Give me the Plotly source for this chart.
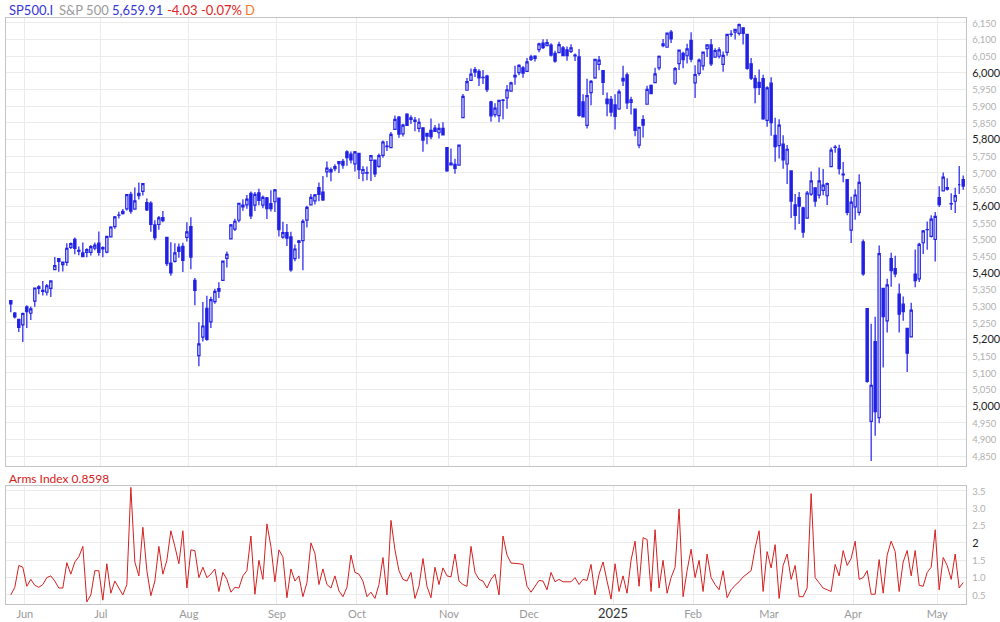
import plotly.graph_objects as go
import pandas as pd

# ---------------- data ----------------
holidays = ["2024-06-19", "2024-07-04", "2024-09-02", "2024-11-28", "2024-12-25",
            "2025-01-01", "2025-01-09", "2025-01-20", "2025-02-17", "2025-04-18"]
dates = [d for d in pd.bdate_range("2024-05-28", "2025-05-09")
         if d.strftime("%Y-%m-%d") not in holidays]

opens = [5315.91, 5278.73, 5259.77, 5243.21, 5297.15, 5278.24, 5314.48, 5357.80, 5343.81, 5341.22,
         5353.00, 5409.13, 5441.93, 5424.08, 5431.11, 5476.15, 5499.99, 5466.77, 5459.58, 5460.73,
         5460.71, 5473.59, 5488.48, 5471.08, 5461.84, 5507.44, 5537.91, 5572.75, 5584.24, 5591.26,
         5635.21, 5590.76, 5638.16, 5644.09, 5610.07, 5608.56, 5543.37, 5544.54, 5565.30, 5505.84,
         5428.70, 5433.67, 5476.55, 5478.73, 5505.59, 5537.84, 5376.63, 5151.14, 5206.42, 5293.13,
         5252.57, 5312.94, 5351.88, 5376.98, 5442.86, 5501.13, 5530.50, 5557.23, 5602.88, 5603.09,
         5637.77, 5602.89, 5639.66, 5602.89, 5624.51, 5607.30, 5612.74, 5623.89, 5506.68, 5520.08,
         5507.33, 5442.07, 5490.51, 5496.42, 5557.48, 5603.34, 5615.21, 5655.51, 5641.68, 5702.63,
         5709.48, 5711.90, 5727.15, 5733.65, 5762.22, 5755.36, 5726.52, 5757.73, 5698.19, 5698.56,
         5737.04, 5737.80, 5719.14, 5751.80, 5778.36, 5775.09, 5829.81, 5866.74, 5816.58, 5875.62,
         5859.43, 5857.82, 5832.70, 5834.50, 5817.80, 5826.75, 5833.93, 5819.68, 5832.65, 5775.34,
         5723.22, 5725.15, 5722.43, 5864.89, 5947.21, 5976.76, 6008.86, 6003.60, 5985.75, 5989.68,
         5912.79, 5874.17, 5870.96, 5917.55, 5924.37, 5944.36, 5992.28, 6000.03, 6014.11, 6003.98,
         6040.11, 6042.97, 6069.39, 6089.03, 6081.38, 6083.04, 6057.59, 6060.15, 6074.29, 6068.17,
         6063.79, 6052.55, 6047.65, 5912.71, 5842.00, 5940.25, 5984.63, 6024.97, 6006.17, 5920.67,
         5919.74, 5903.26, 5891.07, 5982.81, 5993.26, 5910.66, 5890.66, 5782.83, 5859.05, 5905.21,
         5961.72, 5969.99, 6014.12, 6081.39, 6076.32, 6121.43, 5969.04, 6026.97, 6057.70, 6050.75,
         6096.79, 5969.65, 5998.14, 6020.45, 6072.22, 6083.13, 6046.40, 6049.32, 6025.08, 6060.59,
         6115.52, 6121.60, 6117.76, 6134.50, 6114.82, 6026.69, 5982.73, 5970.87, 5981.88, 5856.74,
         5968.33, 5811.98, 5781.41, 5785.87, 5726.01, 5705.37, 5603.65, 5624.84, 5594.45, 5563.85,
         5635.60, 5654.53, 5632.37, 5646.92, 5630.73, 5718.08, 5775.86, 5771.66, 5695.64, 5679.51,
         5527.91, 5597.53, 5580.76, 5492.74, 5292.14, 4953.79, 5193.57, 4965.28, 5353.15, 5255.56,
         5441.96, 5411.99, 5335.75, 5305.45, 5232.94, 5207.67, 5395.92, 5381.38, 5489.73, 5529.22,
         5508.87, 5499.44, 5625.14, 5645.32, 5655.32, 5606.56, 5614.24, 5663.94, 5679.00]
highs = [5315.91, 5282.27, 5260.21, 5280.33, 5302.11, 5298.80, 5354.16, 5362.35, 5375.08, 5365.79,
         5375.95, 5447.25, 5441.93, 5432.39, 5488.50, 5490.38, 5505.53, 5478.31, 5490.66, 5472.88,
         5483.14, 5490.81, 5523.64, 5479.55, 5509.69, 5539.27, 5570.33, 5583.11, 5590.75, 5635.39,
         5642.45, 5655.56, 5670.39, 5667.34, 5622.49, 5614.05, 5557.50, 5570.36, 5585.34, 5508.04,
         5491.59, 5488.32, 5487.74, 5489.46, 5551.51, 5566.16, 5383.89, 5250.89, 5312.34, 5330.64,
         5328.03, 5351.82, 5371.20, 5436.50, 5463.22, 5546.23, 5561.98, 5608.30, 5620.51, 5632.68,
         5643.22, 5641.82, 5651.62, 5631.18, 5627.03, 5646.95, 5651.37, 5623.89, 5552.74, 5546.30,
         5522.47, 5484.20, 5497.91, 5560.41, 5600.71, 5636.27, 5636.05, 5670.81, 5689.75, 5733.57,
         5715.14, 5725.36, 5735.32, 5741.03, 5767.37, 5763.78, 5765.14, 5757.73, 5719.14, 5718.78,
         5753.10, 5739.34, 5757.60, 5796.80, 5795.03, 5822.13, 5871.41, 5870.36, 5846.52, 5878.46,
         5872.17, 5866.92, 5863.04, 5834.85, 5817.80, 5862.82, 5842.92, 5847.19, 5850.94, 5775.34,
         5772.52, 5741.43, 5783.44, 5936.14, 5983.84, 6012.45, 6017.31, 6009.92, 6008.19, 5993.88,
         5915.79, 5908.12, 5917.11, 5920.67, 5962.80, 5972.90, 6020.75, 6025.42, 6020.16, 6044.17,
         6053.58, 6052.07, 6089.84, 6099.97, 6099.97, 6088.51, 6065.40, 6092.59, 6079.68, 6078.58,
         6085.19, 6057.68, 6070.67, 5935.52, 5982.06, 5978.25, 6040.10, 6049.75, 6006.17, 5940.79,
         5929.74, 5935.09, 5949.34, 6021.04, 6000.68, 5927.89, 5890.66, 5836.88, 5871.92, 5960.61,
         5964.69, 6014.96, 6051.51, 6100.81, 6118.73, 6128.18, 6017.17, 6069.10, 6062.83, 6086.64,
         6120.91, 6022.13, 6042.48, 6062.86, 6084.03, 6101.28, 6073.38, 6076.28, 6063.24, 6116.91,
         6127.47, 6129.63, 6147.43, 6134.50, 6114.82, 6043.65, 5992.65, 6009.82, 5993.69, 5959.40,
         5986.09, 5865.08, 5860.59, 5812.08, 5783.01, 5705.37, 5636.30, 5642.19, 5597.78, 5645.27,
         5703.52, 5654.53, 5715.33, 5711.15, 5670.84, 5775.14, 5783.21, 5783.62, 5732.28, 5681.02,
         5627.56, 5650.57, 5695.31, 5499.53, 5292.14, 5246.57, 5267.47, 5481.34, 5353.15, 5381.46,
         5459.46, 5450.41, 5367.24, 5328.31, 5232.94, 5309.60, 5469.69, 5489.40, 5528.11, 5553.66,
         5571.95, 5581.84, 5658.91, 5700.70, 5683.23, 5638.00, 5654.43, 5720.10, 5691.67]
lows = [5280.89, 5262.70, 5222.10, 5191.68, 5234.32, 5257.63, 5297.64, 5335.36, 5331.33, 5331.52,
        5327.25, 5409.13, 5402.51, 5403.75, 5420.40, 5471.32, 5455.56, 5452.03, 5446.53, 5446.56,
        5451.87, 5467.54, 5451.12, 5446.53, 5458.43, 5507.42, 5531.63, 5562.51, 5574.57, 5586.44,
        5576.53, 5590.44, 5619.85, 5631.47, 5584.81, 5522.81, 5497.04, 5529.04, 5550.90, 5419.98,
        5390.95, 5430.70, 5444.44, 5401.71, 5493.75, 5410.42, 5302.03, 5119.26, 5193.56, 5195.54,
        5233.85, 5306.87, 5324.37, 5376.98, 5415.67, 5501.13, 5525.17, 5550.74, 5585.50, 5591.57,
        5560.95, 5585.16, 5602.34, 5593.48, 5560.95, 5583.71, 5581.79, 5508.55, 5501.67, 5480.28,
        5402.62, 5434.49, 5441.72, 5406.96, 5535.50, 5601.65, 5604.53, 5614.05, 5615.08, 5686.42,
        5674.49, 5704.22, 5698.99, 5712.06, 5721.01, 5727.34, 5703.53, 5681.28, 5674.00, 5677.05,
        5675.04, 5686.85, 5714.56, 5745.02, 5764.76, 5775.09, 5829.81, 5804.48, 5808.34, 5840.25,
        5846.11, 5824.29, 5821.17, 5762.41, 5784.92, 5799.98, 5823.08, 5802.17, 5811.28, 5702.86,
        5723.22, 5696.51, 5722.10, 5864.89, 5947.21, 5976.76, 5986.69, 5960.08, 5965.91, 5942.28,
        5853.01, 5865.95, 5850.94, 5860.15, 5891.89, 5944.36, 5963.91, 5992.27, 5984.87, 6003.98,
        6035.33, 6033.39, 6061.06, 6071.11, 6079.98, 6048.63, 6029.89, 6060.15, 6051.25, 6035.77,
        6059.14, 6035.19, 5867.79, 5866.07, 5832.30, 5902.57, 5981.44, 6007.37, 5932.95, 5869.16,
        5868.86, 5829.53, 5888.66, 5960.01, 5890.68, 5874.78, 5809.51, 5773.31, 5805.62, 5905.21,
        5935.18, 5969.99, 6006.88, 6076.13, 6074.67, 6088.74, 5962.92, 6007.91, 6012.96, 6027.46,
        6030.93, 5923.93, 5990.87, 6007.06, 6046.83, 6019.96, 6044.84, 6042.34, 6003.00, 6051.00,
        6107.62, 6099.51, 6111.15, 6084.59, 6008.56, 5977.83, 5908.49, 5932.69, 5858.78, 5837.66,
        5810.91, 5732.59, 5742.35, 5711.64, 5666.29, 5564.02, 5528.41, 5546.09, 5504.65, 5563.85,
        5631.12, 5597.76, 5622.20, 5632.33, 5603.10, 5718.08, 5759.93, 5694.41, 5670.94, 5572.42,
        5488.73, 5558.52, 5571.48, 5390.83, 5069.90, 4835.04, 4910.42, 4948.43, 5115.27, 5220.77,
        5358.02, 5386.44, 5220.79, 5255.58, 5101.63, 5207.67, 5356.36, 5371.96, 5455.86, 5468.64,
        5505.70, 5433.24, 5597.35, 5644.76, 5646.42, 5587.67, 5578.64, 5635.81, 5649.05]
closes = [5306.04, 5266.95, 5235.48, 5277.51, 5283.40, 5291.34, 5354.03, 5352.96, 5346.99, 5360.79,
          5375.32, 5421.03, 5433.74, 5431.60, 5473.23, 5487.03, 5473.17, 5464.62, 5447.87, 5469.30,
          5477.90, 5482.87, 5460.48, 5475.09, 5509.01, 5537.02, 5567.19, 5572.85, 5576.98, 5633.91,
          5584.54, 5615.35, 5631.22, 5667.20, 5588.27, 5544.59, 5505.00, 5564.41, 5555.74, 5427.13,
          5399.22, 5459.10, 5463.54, 5436.44, 5522.30, 5446.68, 5346.56, 5186.33, 5240.03, 5199.50,
          5319.31, 5344.16, 5344.39, 5434.43, 5455.21, 5543.22, 5554.25, 5608.25, 5597.12, 5620.85,
          5570.64, 5634.61, 5616.84, 5625.80, 5592.18, 5591.96, 5648.40, 5528.93, 5520.07, 5503.41,
          5408.42, 5471.05, 5495.52, 5554.13, 5595.76, 5626.02, 5633.09, 5634.58, 5618.26, 5713.64,
          5702.55, 5718.57, 5732.93, 5722.26, 5745.37, 5738.17, 5762.48, 5708.75, 5709.54, 5699.94,
          5751.07, 5695.94, 5751.13, 5792.04, 5780.05, 5815.03, 5859.85, 5815.26, 5842.47, 5841.47,
          5864.67, 5853.98, 5851.20, 5797.42, 5809.86, 5808.12, 5823.52, 5832.92, 5813.67, 5705.45,
          5728.80, 5712.69, 5782.76, 5929.04, 5973.10, 5995.54, 6001.35, 5983.99, 5985.38, 5949.17,
          5870.62, 5893.62, 5916.98, 5917.11, 5948.71, 5969.34, 5987.37, 6021.63, 5998.74, 6032.38,
          6047.15, 6049.88, 6086.49, 6075.11, 6090.27, 6052.85, 6034.91, 6084.19, 6051.25, 6051.09,
          6074.08, 6050.61, 5872.16, 5867.08, 5930.85, 5974.07, 6040.04, 6037.59, 5970.84, 5906.94,
          5881.63, 5868.55, 5942.47, 5975.38, 5909.03, 5918.25, 5827.04, 5836.22, 5842.91, 5949.91,
          5937.34, 5996.66, 6049.24, 6086.37, 6118.71, 6101.24, 6012.28, 6067.70, 6039.31, 6071.17,
          6040.53, 5994.57, 6037.88, 6061.48, 6083.57, 6025.99, 6066.44, 6068.50, 6051.97, 6115.07,
          6114.63, 6129.58, 6144.15, 6117.52, 6013.13, 5983.25, 5955.25, 5956.06, 5861.57, 5954.50,
          5849.72, 5778.15, 5842.63, 5738.52, 5770.20, 5614.56, 5572.07, 5599.30, 5521.52, 5638.94,
          5675.12, 5614.66, 5675.29, 5662.89, 5667.56, 5767.57, 5776.65, 5712.20, 5693.31, 5580.94,
          5611.85, 5633.07, 5670.97, 5396.52, 5074.08, 5062.25, 4982.77, 5456.90, 5268.05, 5363.36,
          5405.97, 5396.63, 5275.70, 5282.70, 5158.20, 5287.76, 5375.86, 5484.77, 5525.21, 5528.75,
          5560.83, 5569.06, 5604.14, 5686.67, 5650.38, 5606.91, 5631.28, 5663.94, 5659.91]

arms = [0.50, 0.72, 1.35, 1.30, 0.75, 0.95, 0.78, 0.72, 0.80, 1.00,
        1.05, 0.90, 0.70, 0.70, 1.43, 1.10, 1.45, 1.60, 1.90, 0.30,
        0.50, 1.20, 1.20, 0.35, 1.40, 0.55, 0.90, 0.70, 0.50, 0.80,
        3.60, 1.45, 1.05, 2.45, 1.20, 0.48, 0.90, 1.90, 1.10, 1.50,
        2.35, 1.90, 1.40, 2.35, 0.70, 1.80, 1.78, 1.00, 1.30, 1.00,
        1.10, 1.25, 0.60, 1.15, 0.95, 0.58, 0.72, 0.70, 1.05, 1.20,
        2.20, 0.52, 1.50, 0.95, 2.55, 1.90, 0.88, 1.80, 1.60, 0.42,
        1.25, 0.90, 1.05, 0.45, 0.85, 2.00, 1.70, 0.80, 1.25, 0.80,
        0.70, 1.05, 0.62, 0.45, 0.72, 1.65, 1.15, 1.10, 0.90, 0.45,
        0.58, 0.40, 0.80, 1.58, 0.50, 2.65, 1.80, 1.20, 0.95, 0.90,
        1.15, 0.40, 0.75, 1.55, 0.75, 0.42, 1.30, 0.80, 1.28, 1.05,
        1.02, 1.68, 0.90, 0.80, 0.75, 1.90, 1.15, 0.95, 0.90, 0.70,
        0.95, 1.10, 0.50, 2.20, 1.65, 1.42, 1.42, 1.40, 1.38, 0.75,
        0.58, 0.75, 0.92, 0.90, 0.65, 1.15, 0.88, 0.95, 0.88, 0.88,
        0.88, 1.00, 0.80, 0.95, 0.92, 1.38, 0.50, 1.10, 1.45, 0.90,
        0.38, 1.40, 0.60, 1.05, 0.55, 1.50, 2.05, 0.75, 2.15, 2.10,
        0.60, 2.38, 0.70, 1.50, 0.55, 1.00, 1.30, 2.98, 0.45, 1.20,
        1.82, 1.00, 1.50, 0.60, 1.68, 1.00, 0.80, 0.65, 1.20, 0.42,
        0.65, 0.78, 0.88, 1.02, 1.10, 1.20, 1.85, 2.35, 0.60, 1.75,
        1.28, 1.95, 0.40, 1.35, 1.68, 0.95, 1.35, 0.45, 0.45, 0.70,
        3.42, 1.00, 0.85, 0.70, 0.65, 0.60, 1.38, 1.05, 1.78, 1.35,
        1.55, 2.05, 0.95, 1.00, 1.20, 0.52, 0.52, 1.52, 0.55, 1.65,
        2.05, 1.75, 0.60, 1.45, 1.78, 1.05, 1.78, 0.78, 0.75, 1.15,
        1.30, 2.38, 0.65, 1.58, 1.35, 0.95, 1.68, 0.70, 0.8598]

price_ticks = list(range(4850, 6151, 50))
arms_ticks = [0.5, 1.0, 1.5, 2.0, 2.5, 3.0, 3.5]
arms_labels = ["0.5", "1.0", "1.5", "2", "2.5", "3.0", "3.5"]
month_names = ["Jan", "Feb", "Mar", "Apr", "May", "Jun", "Jul", "Aug", "Sep", "Oct", "Nov", "Dec"]

# ---------------- derived ----------------
n = min(len(dates), len(opens), len(highs), len(lows), len(closes))
xs = list(range(n))
na = min(len(arms), n)

month_pos, month_txt = [], []
for i in range(1, n):
    if dates[i].month != dates[i - 1].month:
        month_pos.append(i - 0.5)
        if dates[i].month == 1:
            month_txt.append('<span style="color:#333333;font-size:13px">%d</span>' % dates[i].year)
        else:
            month_txt.append(month_names[dates[i].month - 1])

def price_label(v):
    s = "{:,}".format(v)
    if v % 200 == 0:
        return '<span style="color:#222222;font-size:11px">%s</span>' % s
    return '<span style="color:#b0b0b0;font-size:9.5px">%s</span>' % s

def arms_label(v, s):
    if s == "2":
        return '<span style="color:#222222;font-size:11px">%s</span>' % s
    return '<span style="color:#b0b0b0;font-size:9.5px">%s</span>' % s

BLUE = "#2020e6"
RED = "#d42020"

fig = go.Figure()
fig.add_trace(go.Candlestick(
    x=xs, open=opens[:n], high=highs[:n], low=lows[:n], close=closes[:n],
    increasing=dict(line=dict(color=BLUE, width=1.2), fillcolor="white"),
    decreasing=dict(line=dict(color=BLUE, width=1.2), fillcolor=BLUE),
    whiskerwidth=0, xaxis="x", yaxis="y", hoverinfo="skip", showlegend=False))
fig.add_trace(go.Scatter(
    x=xs[:na], y=arms[:na], mode="lines", line=dict(color=RED, width=1),
    xaxis="x2", yaxis="y2", hoverinfo="skip", showlegend=False))

L, R, T, B = 6, 34, 18, 18
W, H = 1000, 622
ph = H - T - B
def py(pix):  # pixel y (from top) -> paper y
    return (H - B - pix) / ph
def px(pix):
    return (pix - L) / (W - L - R)

xr = [-1.2, 238.7]
grid = "#ebebeb"
frame = "#c4c4c4"
common_x = dict(range=xr, tickmode="array", tickvals=month_pos, ticktext=month_txt,
                showgrid=True, gridcolor=grid, gridwidth=1, zeroline=False, automargin=False,
                showline=True, linecolor=frame, linewidth=1, mirror=True, ticks="")

fig.update_layout(
    width=W, height=H, margin=dict(l=L, r=R, t=T, b=B, pad=0, autoexpand=False),
    paper_bgcolor="white", plot_bgcolor="white",
    font=dict(family="Lato, 'Open Sans', sans-serif", size=11, color="#999999"),
    boxgap=0.2, hovermode=False,
    xaxis=dict(common_x, domain=[0, 1], anchor="y", showticklabels=False,
               rangeslider=dict(visible=False)),
    yaxis=dict(domain=[py(466), 1], range=[4820, 6164], side="right", automargin=False,
               tickmode="array", tickvals=price_ticks,
               ticktext=[price_label(v) for v in price_ticks],
               showgrid=True, gridcolor=grid, zeroline=False,
               showline=True, linecolor=frame, mirror=True, ticks="", ticklabelstandoff=3),
    xaxis2=dict(common_x, domain=[0, 1], anchor="y2", showticklabels=True,
                tickfont=dict(size=11, color="#9a9a9a")),
    yaxis2=dict(domain=[0, py(486)], range=[0.24, 3.64], side="right", automargin=False,
                tickmode="array", tickvals=arms_ticks,
                ticktext=[arms_label(v, s) for v, s in zip(arms_ticks, arms_labels)],
                showgrid=True, gridcolor=grid, zeroline=False,
                showline=True, linecolor=frame, mirror=True, ticks="", ticklabelstandoff=3),
)

header = [("SP500.I", 7, "#3535d8"), ("S&P 500", 57, "#9a9a9a"), ("5,659.91", 110, "#3535d8"),
          ("-4.03", 165, "#e02424"), ("-0.07%", 199, "#e02424"), ("D", 243, "#f07a2a")]
for txt, xpix, col in header:
    fig.add_annotation(text=txt, xref="paper", yref="paper", x=px(xpix), y=py(10),
                       xanchor="left", yanchor="middle", showarrow=False,
                       font=dict(family="Lato", size=13, color=col))
fig.add_annotation(text="Arms Index 0.8598", xref="paper", yref="paper", x=px(7), y=py(478),
                   xanchor="left", yanchor="middle", showarrow=False,
                   font=dict(family="Lato", size=12, color=RED))

fig.write_html("out.html", config={"displayModeBar": False, "staticPlot": True},
               post_script="document.body.style.margin='0';document.body.style.overflow='hidden';")
